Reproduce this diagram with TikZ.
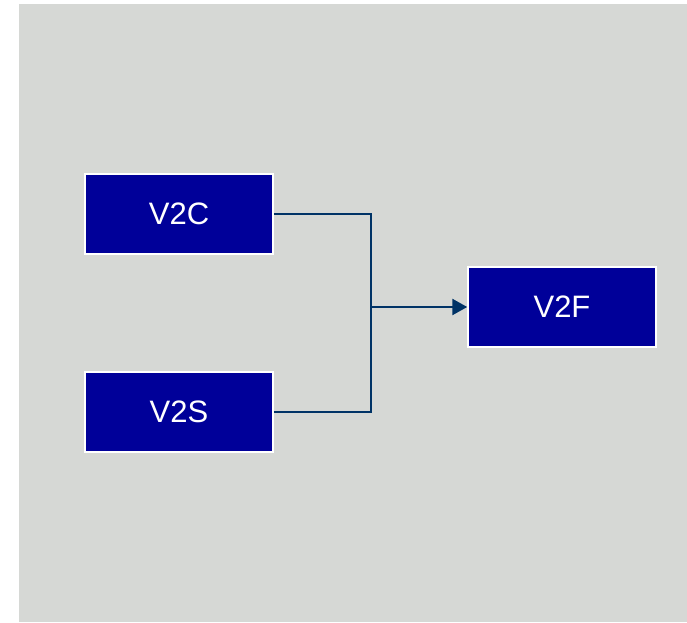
\documentclass[tikz,border=0pt]{standalone}
\usepackage{fontspec}
\setmainfont{Liberation Sans}
\usetikzlibrary{arrows.meta}
\definecolor{panel}{HTML}{D6D8D5}
\definecolor{boxblue}{HTML}{000099}
\definecolor{wire}{HTML}{003366}
\begin{document}
\begin{tikzpicture}[x=1pt,y=-1pt,
  block/.style={draw=white,line width=1.5pt,fill=boxblue,text=white,
    minimum width=188pt,minimum height=80pt,inner sep=0pt,
    font=\fontsize{31}{36}\selectfont},
  link/.style={draw=wire,line width=2.5pt}]
  % page and grey panel
  \useasboundingbox (0,0) rectangle (687,622);
  \fill[white] (0,0) rectangle (687,622);
  \fill[panel] (19,4) rectangle (687,622);
  % blocks
  \node[block] (v2c) at (179,214) {V2C};
  \node[block] (v2s) at (179,412) {V2S};
  \node[block] (v2f) at (562,307) {V2F};
  % joining point of the two feeds
  \coordinate (j) at (371,307);
  \draw[link] (v2c.east) -| (j);
  \draw[link] (v2s.east) -| (j);
  \draw[link,-{Triangle[length=15pt,width=16pt]}] (j) -- (v2f.west);
\end{tikzpicture}
\end{document}
